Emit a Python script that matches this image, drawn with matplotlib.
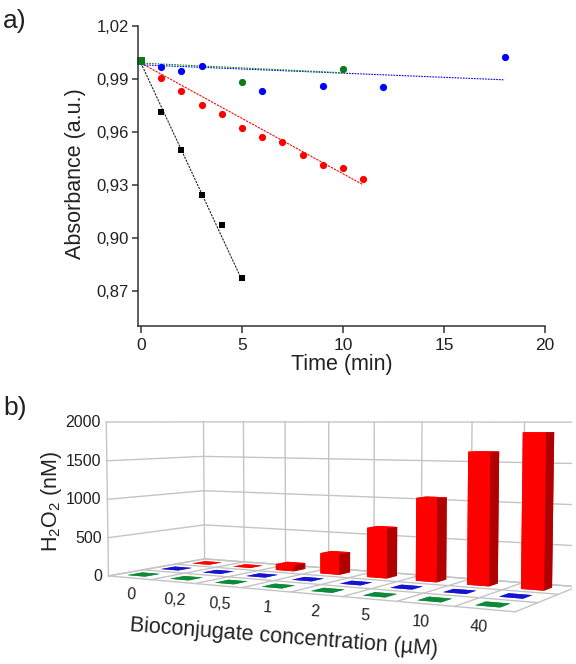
import numpy as np
import matplotlib
matplotlib.use('Agg')
import matplotlib.pyplot as plt
from matplotlib.ticker import MultipleLocator, FuncFormatter

plt.rcParams['font.family'] = ['Liberation Sans', 'DejaVu Sans']
plt.rcParams['mathtext.fontset'] = 'custom'
plt.rcParams['mathtext.rm'] = 'Liberation Sans'

# panel a
black_t = [0, 1, 2, 3, 4, 5]
black_y = [1.0, 0.971, 0.950, 0.924, 0.907, 0.877]
black_fit_t = [0, 5]
black_fit_y = [0.999, 0.876]

red_t = [0, 1, 2, 3, 4, 5, 6, 7, 8, 9, 10, 11]
red_y = [1.0, 0.9905, 0.983, 0.975, 0.970, 0.962, 0.957, 0.954, 0.947, 0.941, 0.9395, 0.9335]
red_fit_t = [0, 11]
red_fit_y = [0.999, 0.930]

blue_t = [1, 2, 3, 6, 9, 12, 18]
blue_y = [0.9965, 0.9945, 0.9975, 0.983, 0.986, 0.9855, 1.0025]
blue_fit_t = [0, 18]
blue_fit_y = [0.998, 0.9895]

green_t = [5, 10]
green_y = [0.9885, 0.9955]
green_fit_t = [0, 10]
green_fit_y = [0.999, 0.9935]

# panel b
concentrations = ['0', '0,2', '0,5', '1', '2', '5', '10', '40']
red_nM = [2, 2, 80, 270, 640, 1050, 1640, 1880]
blue_nM = [2, 2, 2, 2, 2, 2, 2, 2]
green_nM = [2, 2, 2, 2, 2, 2, 2, 2]
z_ticks = [0, 500, 1000, 1500, 2000]

W, H = 576, 664
fig = plt.figure(figsize=(W / 100, H / 100), dpi=100)


def rect(left, top, right, bottom):
    return [left / W, 1 - bottom / H, (right - left) / W, (bottom - top) / H]


# ---- a) ----
ax = fig.add_axes(rect(137.7, 26, 545, 326))
ax.set_xlim(-0.16, 20)
ax.set_ylim(0.85, 1.02)
ax.plot(black_fit_t, black_fit_y, color='#222222', ls=(0, (2, 1)), lw=0.8)
ax.plot(red_fit_t, red_fit_y, color='red', ls=(0, (2, 1)), lw=0.8)
ax.plot(blue_fit_t, blue_fit_y, color='blue', ls=(0, (1.5, 1)), lw=0.8)
ax.plot(green_fit_t, green_fit_y, color='#118a1e', ls=(0, (1.5, 1)), lw=0.8)
ax.plot(blue_t, blue_y, 'o', color='blue', ms=5.2, mew=0)
ax.plot(red_t, red_y, 'o', color='red', ms=5.2, mew=0)
ax.plot(black_t, black_y, 's', color='black', ms=4.8, mew=0)
ax.plot(green_t, green_y, 'o', color='#0c7a16', ms=5.2, mew=0)
ax.plot([0], [1.0], 's', color='#0c7a16', ms=5.2, mew=0, clip_on=False)
for side in ['top', 'right']:
    ax.spines[side].set_visible(False)
for side in ['left', 'bottom']:
    ax.spines[side].set_color('#333333')
    ax.spines[side].set_linewidth(1.1)
ax.xaxis.set_major_locator(MultipleLocator(5))
ax.set_yticks([0.87, 0.90, 0.93, 0.96, 0.99, 1.02])
ax.yaxis.set_major_formatter(FuncFormatter(lambda v, p: ('%.2f' % v).replace('.', ',')))
ax.tick_params(axis='x', length=5, width=1.1, color='#333333', labelsize=12.5,
               labelcolor='#222222', pad=3.5)
ax.tick_params(axis='y', length=4, width=1.1, color='#333333', labelsize=12,
               labelcolor='#222222', pad=2.5)
ax.set_xlabel('Time (min)', fontsize=15.5, color='#222222', labelpad=1)
ax.set_ylabel('Absorbance (a.u.)', fontsize=15.5, color='#222222')
ax.yaxis.set_label_coords((85.5 - 137.7) / (545 - 137.7), 1 - (174 - 26) / 300)

fig.text(3 / W, 1 - 28 / H, 'a)', fontsize=19, color='#222222')
fig.text(3 / W, 1 - 415 / H, 'b)', fontsize=19, color='#222222')

# ---- b) ----
# square 3d axes, camera worked out from the box corners in the picture
ax3 = fig.add_axes(rect(84.4, 264.6, 572.4, 752.6), projection='3d', proj_type='persp',
                   focal_length=0.43)
ax3.view_init(elev=4.1, azim=-60.2)
ax3.set_box_aspect((2.8, 1.05, 1))
ax3.set_axis_off()
ax3.patch.set_alpha(0)
nx = len(concentrations)
ny = 3
zmax = z_ticks[-1]
ax3.set_xlim(0, nx)
ax3.set_ylim(0, ny)
ax3.set_zlim(0, zmax)
# axis is off, the ticks are only drawn by hand below
ax3.set_xticks([])
ax3.set_yticks([])
ax3.set_zticks([])

grid = dict(color='#c4c4c4', lw=1.0, zorder=1)
for z in z_ticks:
    ax3.plot([0, 0], [0, ny], [z, z], **grid)
    ax3.plot([0, nx], [ny, ny], [z, z], **grid)
for i in range(nx + 1):
    ax3.plot([i, i], [0, ny], [0, 0], **grid)
    ax3.plot([i, i], [ny, ny], [0, zmax], **grid)
for j in range(ny + 1):
    ax3.plot([0, nx], [j, j], [0, 0], **grid)
ax3.plot([0, 0], [0, 0], [0, zmax], **grid)
ax3.plot([nx, nx], [ny, ny], [0, zmax], **grid)

bw, bd = 0.41, 0.42
rows = [(0, green_nM, '#0c8a3a', '#0c8a3a'), (1, blue_nM, '#1414d2', '#1414d2'),
        (2, red_nM, '#ff0000', '#b00000')]
for row, vals, c, dark in rows:
    for i, v in enumerate(vals):
        # faces: bottom, top, front, back, left, right
        colors = [c, c, c, c, c, dark]
        ax3.bar3d(i + 0.45 - bw / 2, row + 0.47 - bd / 2, 0, bw, bd, v, color=colors,
                  shade=False, zsort='max')

for z in z_ticks:
    ax3.text(0, -0.16, z, str(z), ha='right', va='center', fontsize=11.5, color='#222222')

label_px = [131, 175, 220, 267, 315, 365, 421, 479]
label_py = [595, 600, 604, 608, 612, 616, 622, 627]
for c, px, py in zip(concentrations, label_px, label_py):
    fig.text(px / W, 1 - py / H, c, ha='center', va='center', rotation=-3, fontsize=11.5,
             color='#222222')

fig.text(52 / W, 1 - 501 / H, r'H$_2$O$_2$ (nM)', rotation=90, ha='center', va='center',
         fontsize=15.5, color='#222222')
fig.text(284 / W, 1 - 638 / H, 'Bioconjugate concentration (\u00b5M)', rotation=-4.5,
         ha='center', va='center', fontsize=15.5, color='#222222')

fig.savefig('out.png', dpi=100)
